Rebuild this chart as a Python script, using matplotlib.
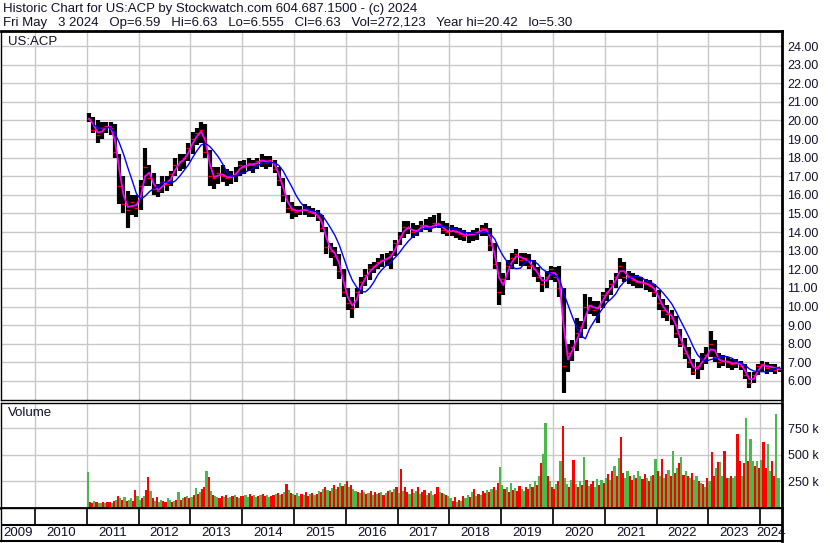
import numpy as np
import pandas as pd
import matplotlib.pyplot as plt

plt.rcParams['font.family'] = ['Liberation Sans', 'DejaVu Sans']

# monthly price data, Jan 2011 .. May 2024
high = [20.4, 20.2, 20.0, 19.9, 19.9, 19.9, 19.8, 18.2, 17.0, 16.2, 16.0, 16.0,
        16.8, 18.5, 17.6, 17.2, 16.6, 17.0, 17.0, 17.3, 18.0, 18.2, 18.2, 18.8,
        19.4, 19.6, 19.9, 19.8, 18.4, 17.5, 17.5, 17.6, 17.4, 17.3, 17.5, 17.8,
        17.9, 18.0, 17.9, 18.0, 18.2, 18.1, 18.1, 17.9, 17.5, 16.9, 16.0, 15.6,
        15.4, 15.4, 15.5, 15.4, 15.3, 15.2, 14.9, 14.3, 13.4, 13.2, 12.8, 12.0,
        11.0, 10.5, 11.0, 11.6, 12.0, 12.3, 12.4, 12.6, 12.8, 12.9, 13.0, 13.6,
        14.0, 14.6, 14.6, 14.5, 14.4, 14.6, 14.7, 14.8, 14.9, 15.0, 14.6, 14.5,
        14.4, 14.3, 14.2, 14.1, 14.0, 14.1, 14.2, 14.4, 14.5, 14.2, 13.4, 12.4,
        11.8, 12.5, 12.9, 13.1, 12.9, 12.9, 12.8, 12.5, 12.1, 11.6, 11.9, 12.2,
        12.1, 12.2, 11.0, 8.0, 8.2, 9.4, 9.2, 10.7, 10.5, 10.3, 10.3, 10.8,
        11.0, 11.4, 11.8, 12.6, 12.4, 11.9, 11.8, 11.7, 11.6, 11.5, 11.4, 11.2,
        10.9, 10.4, 10.1, 9.8, 9.5, 8.8, 8.3, 7.8, 7.2, 7.0, 7.5, 7.8,
        8.7, 8.2, 7.5, 7.4, 7.3, 7.2, 7.2, 7.1, 6.9, 6.5, 6.5, 6.9,
        7.1, 7.0, 6.9, 6.9, 6.7]
low = [19.9, 19.3, 18.8, 19.0, 19.3, 19.2, 18.0, 15.5, 15.0, 14.2, 14.9, 14.8,
       15.2, 16.5, 16.5, 16.0, 15.9, 16.1, 16.2, 16.5, 17.0, 17.3, 17.4, 17.8,
       18.2, 18.7, 18.8, 18.0, 16.5, 16.3, 16.6, 16.7, 16.5, 16.6, 16.7, 17.0,
       17.1, 17.3, 17.2, 17.4, 17.5, 17.4, 17.5, 17.2, 16.5, 15.6, 15.0, 14.7,
       14.8, 14.9, 14.9, 14.8, 14.8, 14.6, 14.0, 12.8, 12.6, 12.2, 11.5, 10.5,
       9.8, 9.4, 9.9, 10.7, 11.1, 11.4, 11.8, 12.0, 12.1, 12.2, 12.0, 12.7,
       13.3, 13.7, 13.9, 13.7, 13.8, 14.0, 14.1, 14.0, 14.2, 14.2, 13.9, 13.8,
       13.8, 13.7, 13.6, 13.5, 13.4, 13.5, 13.6, 13.8, 13.8, 13.0, 12.0, 10.1,
       10.6, 11.4, 12.0, 12.3, 12.2, 12.2, 12.0, 11.6, 11.3, 10.8, 11.0, 11.4,
       11.3, 10.5, 5.35, 6.5, 7.1, 7.6, 8.3, 8.8, 9.6, 9.5, 9.1, 9.9,
       10.3, 10.6, 11.0, 11.5, 11.3, 11.2, 11.1, 11.0, 11.0, 10.9, 10.8, 10.5,
       9.8, 9.4, 9.2, 9.0, 8.3, 7.8, 7.2, 6.7, 6.3, 6.1, 6.6, 6.9,
       7.3, 7.0, 6.7, 6.8, 6.7, 6.6, 6.7, 6.6, 6.1, 5.6, 5.9, 6.3,
       6.5, 6.4, 6.5, 6.4, 6.5]
close = [20.1, 19.5, 19.2, 19.6, 19.7, 19.6, 18.3, 16.5, 15.5, 15.2, 15.6, 15.3,
         16.5, 17.5, 16.9, 16.3, 16.2, 16.7, 16.6, 17.1, 17.6, 17.8, 18.0, 18.5,
         19.0, 19.3, 19.5, 18.3, 17.0, 16.9, 17.2, 17.0, 16.9, 17.0, 17.2, 17.6,
         17.5, 17.7, 17.6, 17.8, 17.9, 17.7, 17.9, 17.4, 16.8, 16.0, 15.3, 15.2,
         15.1, 15.2, 15.2, 15.1, 15.0, 14.8, 14.2, 13.2, 13.0, 12.7, 11.9, 10.8,
         10.2, 9.9, 10.8, 11.3, 11.7, 12.0, 12.2, 12.4, 12.5, 12.6, 12.8, 13.4,
         13.8, 14.3, 14.2, 14.0, 14.1, 14.4, 14.3, 14.2, 14.5, 14.4, 14.1, 14.0,
         14.1, 14.0, 13.9, 13.8, 13.9, 13.9, 14.0, 14.2, 14.1, 13.3, 12.3, 10.8,
         11.5, 12.2, 12.6, 12.8, 12.5, 12.6, 12.2, 12.0, 11.6, 11.2, 11.6, 12.0,
         11.6, 11.0, 6.8, 7.5, 7.8, 8.6, 8.9, 10.0, 10.1, 9.8, 10.0, 10.6,
         10.8, 11.2, 11.6, 12.2, 11.6, 11.6, 11.4, 11.3, 11.3, 11.2, 11.1, 10.8,
         10.2, 9.8, 9.6, 9.4, 8.6, 8.0, 7.5, 7.0, 6.5, 6.8, 7.2, 7.4,
         8.0, 7.3, 7.0, 7.1, 7.0, 6.9, 7.0, 6.8, 6.3, 5.9, 6.3, 6.8,
         6.9, 6.7, 6.8, 6.6, 6.63]

# half-month volume, thousands of shares
volume_k = [
    340, 60, 50, 70, 60, 50, 50, 60, 50, 60, 60, 50, 70, 80, 110, 90, 80, 100, 70, 80, 90, 70, 170, 110,
    80, 90, 110, 170, 290, 160, 90, 70, 100, 60, 80, 70, 60, 90, 80, 60, 70, 80, 150, 80, 90, 100, 110, 90,
    100, 120, 190, 130, 150, 180, 200, 345, 290, 160, 120, 110, 100, 90, 110, 100, 120, 90, 100, 110, 120, 100, 90, 110,
    110, 120, 100, 130, 110, 120, 100, 110, 120, 130, 110, 120, 100, 110, 120, 130, 140, 120, 130, 150, 230, 170, 140, 130,
    120, 140, 110, 130, 120, 150, 110, 130, 140, 120, 130, 160, 150, 180, 200, 170, 160, 190, 220, 180, 200, 240, 210, 230,
    250, 200, 220, 180, 160, 150, 140, 170, 150, 130, 140, 160, 120, 150, 130, 140, 150, 120, 140, 160, 170, 150, 180, 200,
    140, 370, 160, 200, 150, 130, 180, 140, 160, 200, 130, 150, 170, 120, 140, 160, 120, 130, 200, 150, 140, 130, 120, 110,
    90, 70, 100, 60, 80, 70, 110, 90, 120, 100, 150, 180, 110, 130, 120, 160, 140, 170, 150, 180, 200, 170, 240, 390,
    220, 180, 200, 150, 240, 170, 190, 160, 210, 180, 160, 200, 180, 230, 200, 250, 220, 300, 420, 510, 800, 300, 250, 200,
    180, 230, 250, 440, 770, 280, 230, 200, 260, 450, 230, 200, 250, 220, 480, 260, 210, 230, 250, 200, 270, 220, 260, 240,
    280, 320, 260, 350, 400, 300, 470, 670, 330, 280, 350, 300, 260, 310, 280, 350, 300, 270, 320, 280, 250, 300, 310, 460,
    350, 300, 460, 280, 320, 360, 300, 540, 330, 380, 420, 480, 310, 350, 300, 280, 330, 260, 300, 250, 240, 230, 200, 280,
    250, 530, 300, 380, 430, 430, 300, 540, 280, 280, 300, 280, 300, 700, 440, 300, 420, 845, 440, 650, 440, 400, 440, 380,
    450, 620, 380, 600, 350, 440, 300, 890, 280,
]

years = list(range(2009, 2025))
price_ticks = list(range(6, 25))
volume_ticks = [250, 500, 750]

header1 = "Historic Chart for US:ACP by Stockwatch.com 604.687.1500 - (c) 2024"
header2 = ("Fri May   3 2024   Op=6.59   Hi=6.63   Lo=6.555   Cl=6.63   "
           "Vol=272,123   Year hi=20.42   lo=5.30")

W, H = 830, 543
fig = plt.figure(figsize=(W / 100, H / 100), dpi=100)


def px_axes(x0, y0, x1, y1):
    return fig.add_axes([x0 / W, 1 - y1 / H, (x1 - x0) / W, (y1 - y0) / H])


x_lo, x_hi = 2009.344, 2024.421
grid_c = '#c8c8c8'
txt_c = '#10102a'

month_x = 2011 + (np.arange(len(close)) + 0.5) / 12
close_s = pd.Series(close)
ma_short = close_s.rolling(2, min_periods=1).mean()
ma_long = close_s.rolling(6, min_periods=1).mean()

# price panel
ax = px_axes(1, 31, 782, 400)
ax.set_xlim(x_lo, x_hi)
ax.set_ylim(4.979, 24.806)
ax.set_xticks(years[1:])
ax.set_yticks(price_ticks)
ax.grid(True, color=grid_c, lw=1)
ax.set_axisbelow(True)
ax.vlines(month_x, low, high, color='black', lw=3.0)
ax.plot(month_x, close, ls='none', marker='_', ms=3, mew=1, color='red')
ax.plot(month_x, ma_short, color='#ff00ff', lw=1.3)
ax.plot(month_x[1:], ma_long[1:], color='#0000ff', lw=1.0)
ax.yaxis.tick_right()
ax.set_yticklabels([f"{v:.2f}" for v in price_ticks], color=txt_c, fontsize=9)
ax.tick_params(axis='y', length=0, pad=4)
ax.tick_params(axis='x', length=0, labelbottom=False)
ax.text(0.009, 0.971, "US:ACP", transform=ax.transAxes, fontsize=9.5, color=txt_c, va='center')

# volume panel
vax = px_axes(1, 403, 782, 508)
vax.set_xlim(x_lo, x_hi)
vax.set_ylim(0, 990)
vax.set_xticks(years[1:])
vax.set_yticks(volume_ticks)
vax.grid(True, color=grid_c, lw=1)
vax.set_axisbelow(True)
half_x = 2011 + (np.arange(len(volume_k)) + 0.5) / 24
colors = []
for i in range(len(volume_k)):
    m = i // 2
    up = close[m] >= close[m - 1] if m > 0 else True
    if i % 2:
        up = not up
    colors.append('#4cb84c' if up else '#ff0000')
vax.bar(half_x, volume_k, width=1 / 24, color=colors, lw=0)
vax.yaxis.tick_right()
vax.set_yticklabels([f"{v} k" for v in volume_ticks], color=txt_c, fontsize=9)
vax.tick_params(axis='y', length=0, pad=4)
vax.tick_params(axis='x', length=0, labelbottom=False)
vax.text(0.009, 0.9, "Volume", transform=vax.transAxes, fontsize=9.5, color=txt_c, va='center')

# year band
bax = px_axes(1, 508, 782, 541)
bax.set_xlim(x_lo, x_hi)
bax.set_ylim(0, 1)
bax.set_xticks([])
bax.set_yticks([])
bax.vlines(years[1:], 0.5, 1, color='black', lw=1.2)
bax.axhline(0.5, color='black', lw=1.5)
for y in years:
    lo_y, hi_y = max(y, x_lo), min(y + 1, x_hi)
    bax.text((lo_y + hi_y) / 2, 0.24, str(y), ha='center', va='center', fontsize=9.5, color=txt_c)

for a in (ax, vax, bax):
    for s in a.spines.values():
        s.set_color('black')
        s.set_linewidth(1.0)
    a.spines['right'].set_linewidth(2.0)
ax.spines['top'].set_linewidth(2.0)
vax.spines['bottom'].set_linewidth(2.0)
bax.spines['bottom'].set_linewidth(1.5)

fig.text(3 / W, 1 - 9 / H, header1, fontsize=9.5, color=txt_c, va='center')
fig.text(3 / W, 1 - 23 / H, header2, fontsize=9.5, color=txt_c, va='center')

fig.savefig("out.png", dpi=100)
